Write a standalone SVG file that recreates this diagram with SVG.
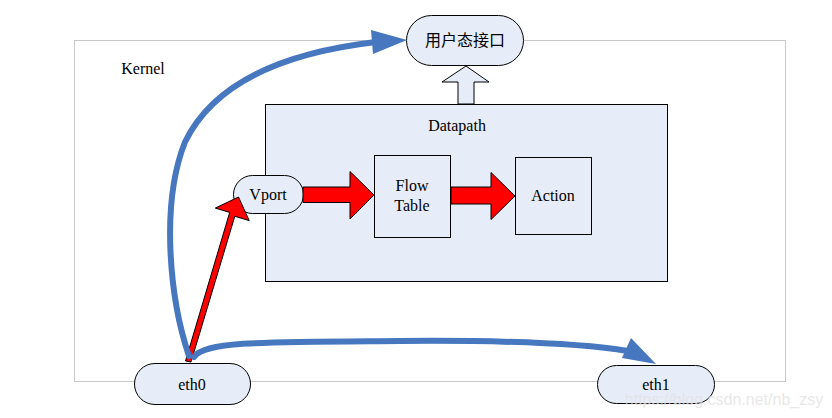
<svg xmlns="http://www.w3.org/2000/svg" width="832" height="418" viewBox="0 0 832 418">
<style>
.node{fill:#e7edf8;stroke:#000;stroke-width:1}
.t{font-family:"Liberation Serif","Times New Roman",serif;font-size:16px;fill:#000;text-anchor:middle}
.cjk{font-family:"Liberation Serif","Noto Sans CJK SC",serif;font-size:16px;fill:#000;text-anchor:middle}
.blue{fill:none;stroke:#4677bf;stroke-width:6;stroke-linecap:round}
.bluehead{fill:#4677bf;stroke:none}
.red{fill:#ff0000;stroke:#000;stroke-width:1;stroke-linejoin:miter}
.wm{font-family:"Liberation Sans",Arial,sans-serif;font-size:16px;fill:#e2e2e2;fill-opacity:0.8;text-anchor:middle}
</style>
<rect width="832" height="418" fill="#fff"/>
<g id="kernel">
<rect x="74.5" y="40.5" width="711" height="341" fill="none" stroke="#c8c8c8" stroke-width="1"/>
<text x="143" y="74" class="t">Kernel</text>
</g>
<g id="datapath">
<rect x="265.5" y="104.5" width="402" height="177" class="node"/>
<text x="457" y="131" class="t">Datapath</text>
</g>
<g id="flowtable">
<rect x="374.5" y="155.5" width="76" height="82" class="node"/>
<text x="412" y="191" class="t">Flow</text>
<text x="412" y="211" class="t">Table</text>
</g>
<g id="action">
<rect x="515.5" y="157.5" width="76" height="77" class="node"/>
<text x="553" y="201" class="t">Action</text>
</g>
<g id="userspace">
<rect x="406.5" y="15.5" width="117" height="50" rx="25" class="node"/>
<text x="465" y="46" class="cjk">用户态接口</text>
</g>
<g id="vport">
<rect x="233.5" y="175.5" width="70" height="38" rx="19" class="node"/>
<text x="268" y="200" class="t">Vport</text>
</g>
<g id="eth0">
<rect x="134.5" y="363.5" width="116" height="41" rx="20.5" class="node"/>
<text x="192" y="390" class="t">eth0</text>
</g>
<g id="eth1">
<rect x="597.5" y="365.5" width="117" height="38" rx="19" class="node"/>
<text x="656" y="390" class="t">eth1</text>
</g>
<g id="connectors">
<polygon points="458,104 458,82 442,82 466,66 489,82 474,82 474,104" class="node"/>
<polygon points="303,187 350,187 350,171.5 374,195 350,219 350,202.5 303,202.5" class="red"/>
<polygon points="451,187 491,187 491,172.5 515,196 491,219.5 491,204 451,204" class="red"/>
<polygon points="185.5,361 229.7,212.4 215.3,208.1 238.5,197 249.2,220.6 234.8,216.3 191,362" class="red"/>
<path d="M189,356 C170,300 160,205 185,142 C215,80 290,52 376,42" class="blue"/>
<polygon points="407,40 371,30 373,54" class="bluehead"/>
<path d="M194,357 C205,341 265,342 400,341 C520,340 585,344 628,351" class="blue"/>
<polygon points="656,364 631,338 622,358" class="bluehead"/>
</g>
<text x="724" y="405" class="wm">https://blog.csdn.net/nb_zsy</text>
</svg>
